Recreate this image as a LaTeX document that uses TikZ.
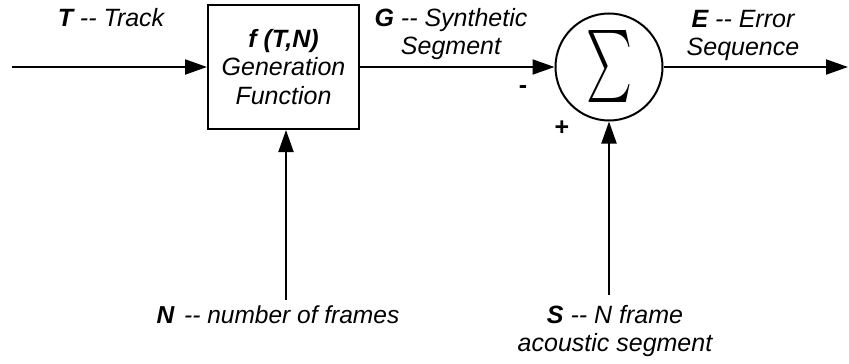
\documentclass[tikz,border=0pt]{standalone}
\usepackage{fontspec}
\setmainfont{Liberation Sans}
\usetikzlibrary{arrows.meta}
\begin{document}
\begin{tikzpicture}[x=1pt,y=-1pt,
  lbl/.style={font=\fontsize{25}{28}\selectfont\itshape, inner sep=0pt, align=center},
  sgn/.style={font=\fontsize{25}{28}\selectfont\bfseries, inner sep=0pt},
  arr/.style={line width=2pt, -{Triangle[length=22pt,width=15pt]}},
  fbox/.style={draw, line width=2pt, inner sep=0pt, minimum width=151pt, minimum height=124pt,
    font=\fontsize{25}{28.5}\selectfont\itshape, align=center},
  sumnode/.style={circle, draw, line width=2pt, inner sep=0pt, minimum size=107pt}]
\useasboundingbox (0,0) rectangle (849,364);
\fill[white] (0,0) rectangle (849,364);

\node[fbox] (gen) at (283.5,67) {\textbf{f (T,N)}\\Generation\\Function};
\node[sumnode] (sum) at (609,67) {\raisebox{3pt}{\resizebox{46pt}{54pt}{$\sum$}}};

\node[lbl, anchor=base] (tlab) at (111,26) {\textbf{T} -{}- Track};
\node[lbl, anchor=base] (glab) at (451,54) {\textbf{G} -{}- Synthetic\\Segment};
\node[lbl, anchor=base] (elab) at (743,55) {\textbf{E} -{}- Error\\Sequence};
\node[lbl, anchor=base, font=\fontsize{24.5}{28}\selectfont\itshape] (nlab) at (278,323) {\textbf{N}\hspace{3pt} -{}- number of frames};
\node[lbl, anchor=base] (slab) at (615,351) {\textbf{S} -{}- N frame\\acoustic segment};
\node[sgn] (minus) at (523,90) {-};
\node[sgn] (plus) at (562,128) {+};

\coordinate (tin) at (12,67);
\coordinate (eout) at (848,67);
\coordinate (nsrc) at (286,300);
\coordinate (ssrc) at (609,295);

\draw[arr] (tin) -- (tin -| gen.west);
\draw[arr] (gen.east) -- (sum.west);
\draw[arr] (sum.east) -- (eout);
\draw[arr] (nsrc) -- (nsrc |- gen.south);
\draw[arr] (ssrc) -- (sum.south);
\end{tikzpicture}
\end{document}
